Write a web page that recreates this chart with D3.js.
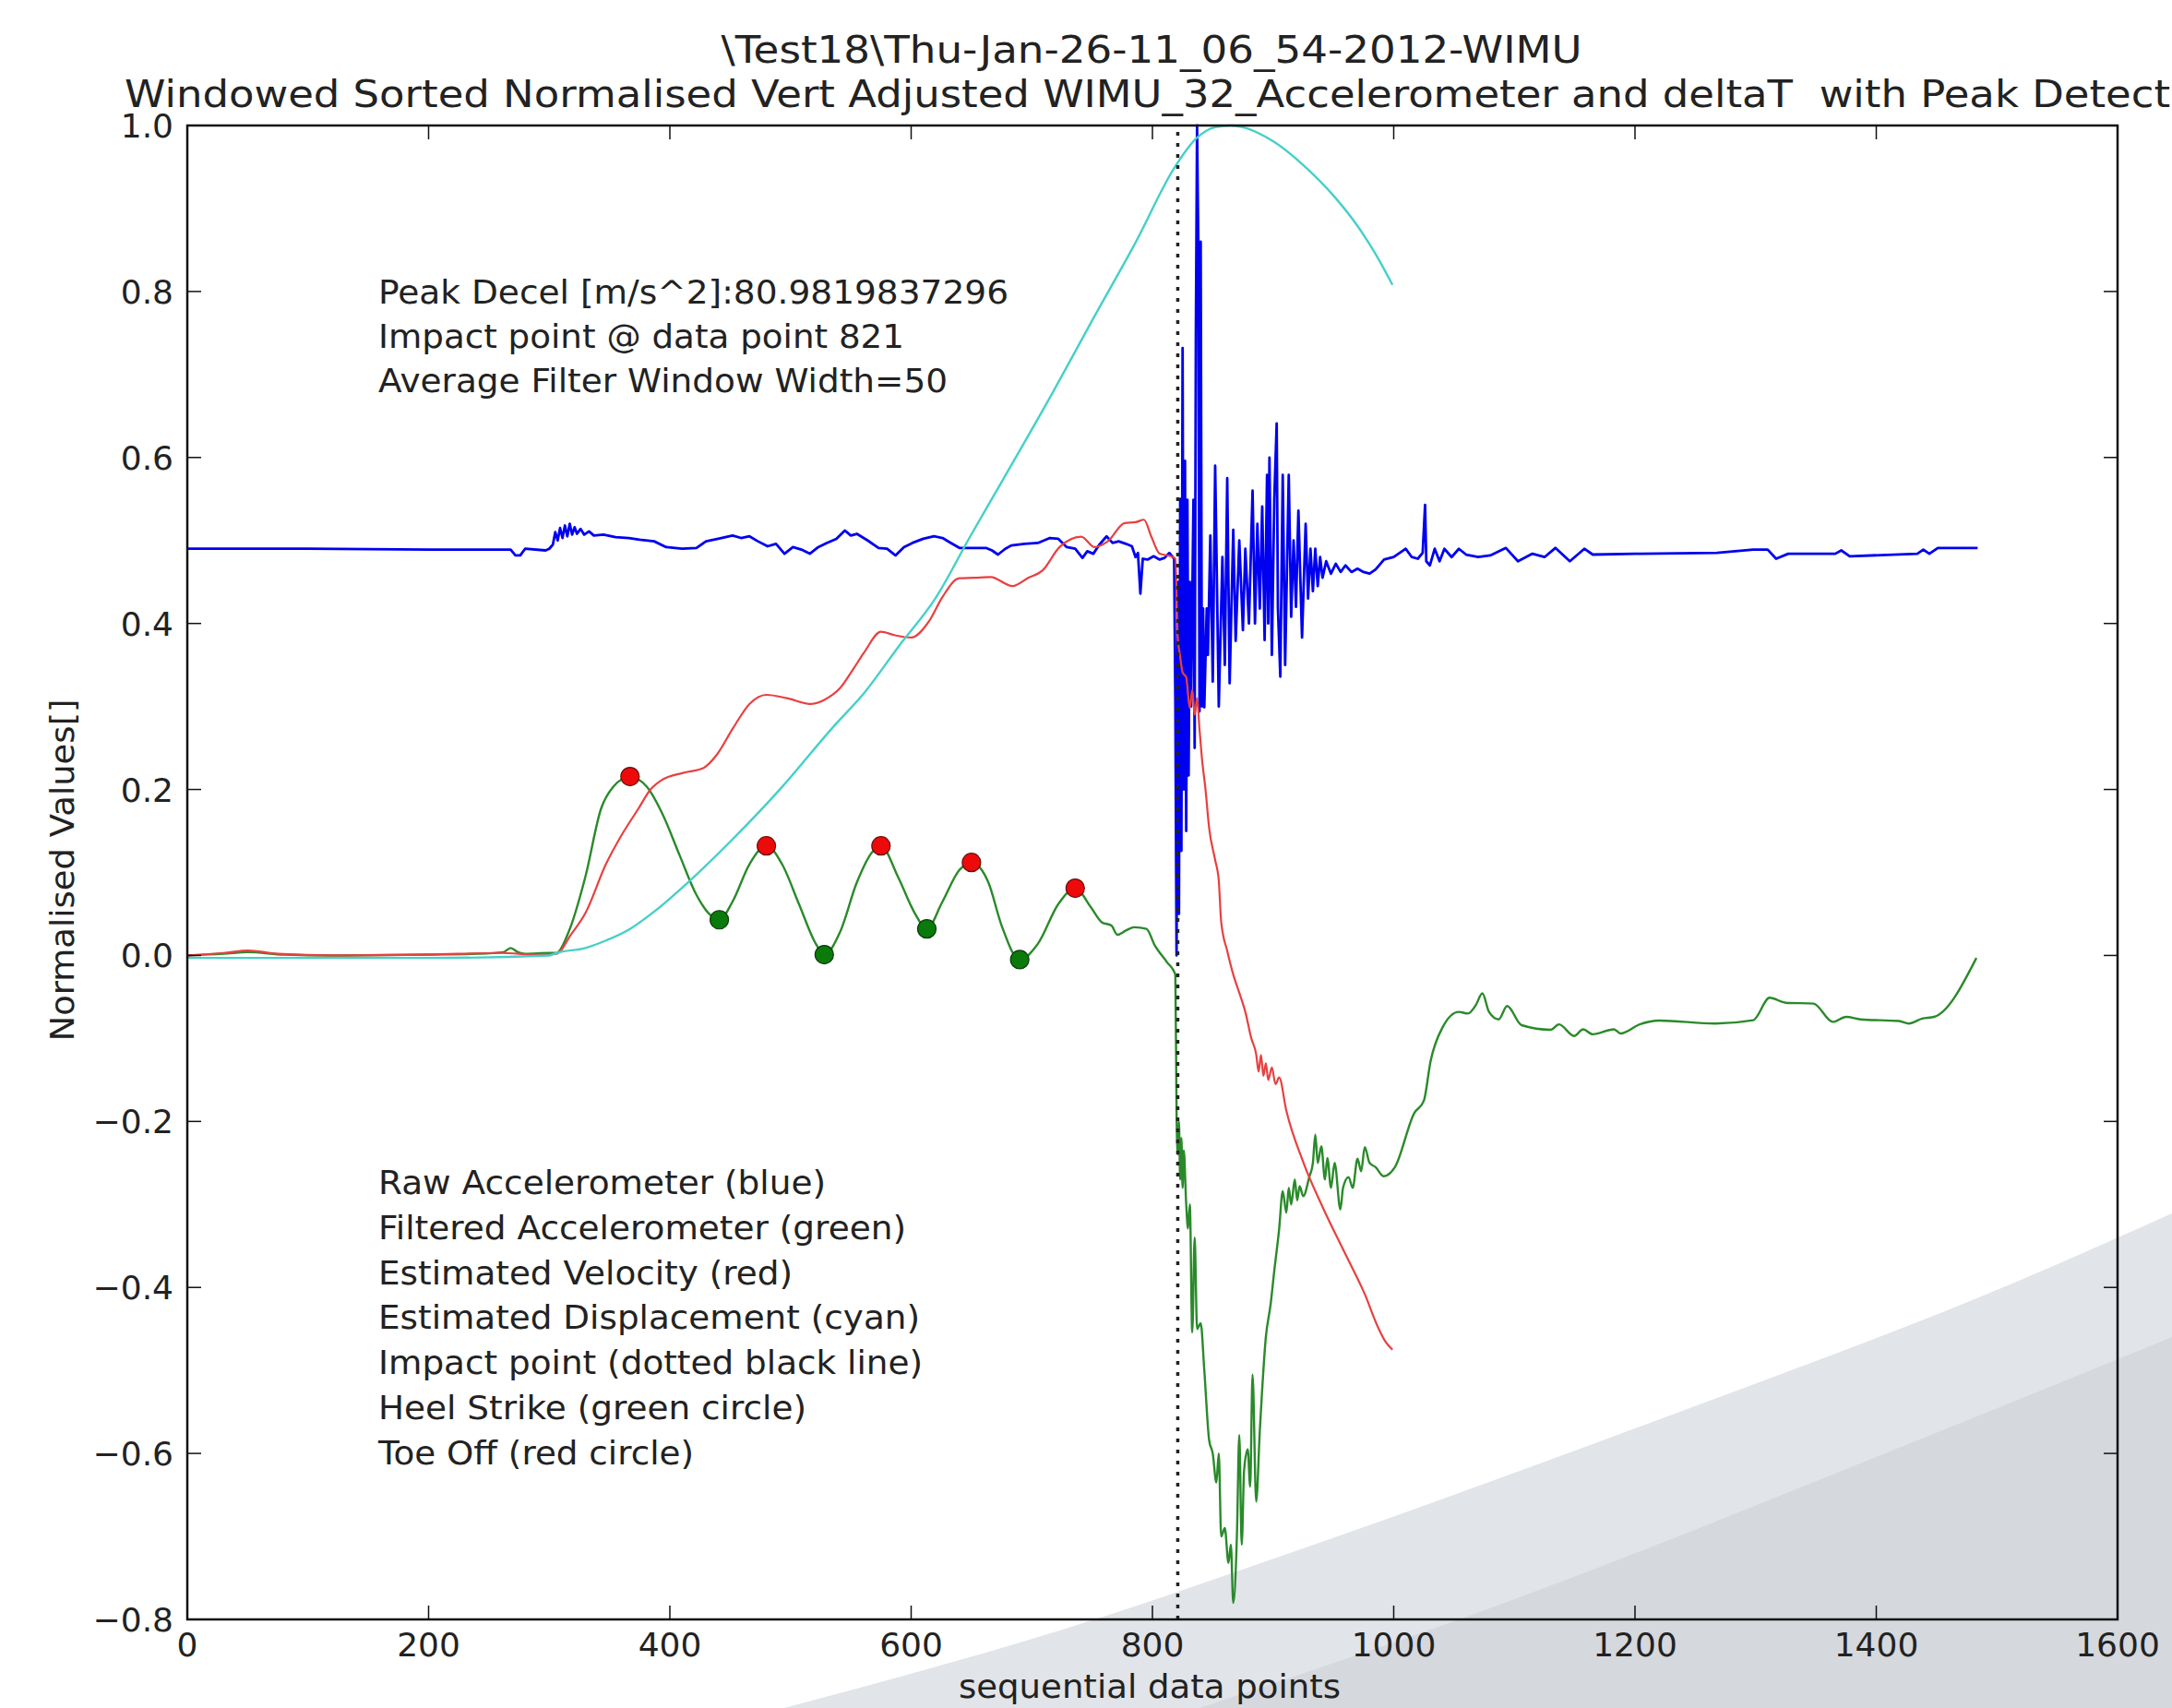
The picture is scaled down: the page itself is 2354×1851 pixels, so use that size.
<!DOCTYPE html>
<html>
<head>
<meta charset="utf-8">
<style>
  body { margin: 0; background: #ffffff; }
  svg { display: block; }
  text { font-family: "DejaVu Sans", sans-serif; fill: #222; }
</style>
</head>
<body>
<svg id="chart" width="2354" height="1851"></svg>
<script src="https://cdnjs.cloudflare.com/ajax/libs/d3/7.8.5/d3.min.js"></script>
<script>
// ---- data: [data point index, normalised value] ----
const rawAccel = [
  [0,0.49],[100,0.49],[200,0.489],[268,0.489],[272,0.482],[276,0.482],[280,0.49],[297,0.488],[300,0.49],
  [303,0.495],[305,0.51],[307,0.5],[309,0.515],[311,0.503],[313,0.518],[315,0.505],[317,0.52],[319,0.507],
  [321,0.516],[323,0.508],[326,0.514],[329,0.507],[333,0.511],[337,0.506],[345,0.507],[355,0.504],[366,0.503],
  [375,0.501],[387,0.499],[397,0.492],[410,0.49],[422,0.491],[430,0.499],[440,0.502],[452,0.506],[459,0.503],
  [466,0.505],[473,0.499],[481,0.493],[488,0.496],[495,0.484],[502,0.492],[509,0.489],[516,0.484],[523,0.492],
  [530,0.497],[538,0.502],[545,0.512],[550,0.506],[555,0.508],[564,0.5],[573,0.491],[580,0.49],[587,0.482],
  [594,0.492],[601,0.497],[610,0.502],[619,0.505],[626,0.503],[633,0.497],[640,0.491],[650,0.491],[662,0.491],
  [667,0.488],[672,0.483],[678,0.49],[683,0.494],[694,0.496],[705,0.497],[715,0.503],[722,0.502],[729,0.492],
  [736,0.49],[742,0.479],[746,0.487],[751,0.484],[756,0.495],[762,0.505],[767,0.497],[772,0.499],[778,0.496],
  [783,0.493],[786,0.48],[788,0.485],[790,0.436],[792,0.478],[796,0.477],[801,0.481],[806,0.477],[810,0.479],
  [814,0.485],[818,0.478],[819,0.3],[820,0.0],[821,0.45],[822,0.05],[823,0.55],[824,0.126],[825,0.732],
  [826,0.2],[827,0.596],[828,0.15],[829,0.549],[830,0.217],[831,0.45],[832,0.3],[834,0.549],[835,0.25],
  [836,0.75],[837,1.0],[838,0.86],[839,0.294],[840,0.86],[841,0.3],[842,0.418],[843,0.299],[845,0.418],
  [846,0.362],[848,0.506],[850,0.33],[852,0.59],[855,0.3],[858,0.48],[860,0.35],[862,0.575],[864,0.328],
  [867,0.513],[869,0.379],[872,0.5],[875,0.392],[877,0.49],[880,0.4],[883,0.56],[885,0.4],[887,0.52],
  [889,0.418],[891,0.541],[893,0.38],[895,0.579],[896,0.4],[897,0.6],[899,0.362],[901,0.55],[903,0.641],
  [904,0.42],[906,0.336],[908,0.579],[910,0.35],[913,0.579],[915,0.408],[917,0.5],[919,0.42],[921,0.536],
  [924,0.383],[927,0.52],[929,0.43],[931,0.49],[933,0.439],[935,0.49],[937,0.445],[939,0.48],[941,0.455],
  [944,0.475],[948,0.46],[952,0.472],[956,0.462],[960,0.47],[965,0.462],[970,0.466],[975,0.462],[980,0.46],
  [985,0.465],[992,0.477],[1000,0.48],[1005,0.485],[1010,0.49],[1015,0.48],[1020,0.478],[1024,0.485],
  [1026,0.543],[1027,0.475],[1030,0.47],[1034,0.49],[1038,0.475],[1042,0.49],[1048,0.48],[1054,0.49],
  [1060,0.483],[1070,0.48],[1080,0.482],[1093,0.491],[1103,0.475],[1115,0.484],[1125,0.48],[1134,0.491],
  [1146,0.475],[1158,0.49],[1165,0.483],[1200,0.484],[1268,0.485],[1298,0.489],[1310,0.489],[1317,0.478],
  [1327,0.484],[1366,0.484],[1371,0.488],[1378,0.481],[1434,0.484],[1439,0.489],[1444,0.484],[1451,0.491],
  [1484,0.491]
];

const filteredAccel = [
  [0,0],[30,0.002],[50,0.004],[80,0.001],[120,0],[200,0.001],[240,0.002],[262,0.004],[268,0.009],[274,0.004],
  [280,0.002],[300,0.003],[306,0.003],[316,0.028],[330,0.095],[343,0.177],[353,0.203],[367,0.2155],[381,0.203],
  [394,0.17],[408,0.121],[422,0.073],[432,0.051],[441,0.043],[452,0.065],[466,0.11],[480,0.132],[493,0.11],
  [507,0.062],[521,0.014],[528,0.001],[541,0.028],[555,0.088],[568,0.125],[575,0.132],[589,0.095],[603,0.051],
  [613,0.032],[626,0.065],[640,0.103],[650,0.112],[664,0.088],[675,0.036],[690,-0.005],[705,0.014],[722,0.062],
  [736,0.081],[749,0.058],[758,0.04],[766,0.036],[771,0.025],[778,0.03],[785,0.034],[795,0.032],[802,0.012],
  [812,-0.008],[819,-0.023],[820,-0.19],[821,-0.24],[822,-0.2],[823,-0.27],[824,-0.22],[825,-0.28],[826,-0.235],
  [828,-0.3],[829.5,-0.329],[831,-0.3],[833,-0.454],[835,-0.34],[837,-0.45],[840,-0.443],[843,-0.5],[847,-0.584],
  [850,-0.6],[853,-0.635],[855,-0.6],[857,-0.7],[860,-0.69],[863,-0.732],[865,-0.71],[867,-0.78],[870,-0.7],
  [872,-0.578],[874,-0.71],[876,-0.62],[879,-0.595],[881,-0.64],[883,-0.505],[886,-0.658],[889,-0.573],
  [894,-0.46],[898,-0.42],[901,-0.38],[905,-0.33],[908,-0.284],[911,-0.31],[913,-0.28],[915,-0.3],[918,-0.27],
  [920,-0.295],[922,-0.278],[925,-0.29],[930,-0.267],[933,-0.25],[935,-0.216],[937,-0.25],[940,-0.23],
  [943,-0.27],[945,-0.244],[948,-0.28],[951,-0.25],[955.8,-0.306],[958,-0.28],[962.6,-0.267],[966,-0.28],
  [970,-0.245],[973,-0.26],[976,-0.231],[980,-0.25],[985,-0.255],[991.6,-0.266],[1001,-0.255],[1017,-0.19],
  [1025,-0.175],[1030.6,-0.127],[1040,-0.088],[1054,-0.068],[1061.5,-0.07],[1068,-0.06],[1073.5,-0.0457],
  [1079,-0.068],[1087,-0.077],[1094,-0.061],[1106,-0.084],[1130,-0.0895],[1137,-0.083],[1149.5,-0.097],
  [1157,-0.089],[1165,-0.095],[1182.5,-0.089],[1188,-0.094],[1204,-0.083],[1220,-0.0785],[1266.7,-0.082],
  [1298,-0.078],[1311.6,-0.051],[1325,-0.057],[1348,-0.058],[1364,-0.08],[1375,-0.074],[1387,-0.077],
  [1419,-0.079],[1427,-0.082],[1438,-0.076],[1448,-0.074],[1483,-0.003]
];

const velocity = [
  [0,0],[30,0.003],[50,0.006],[75,0.002],[120,0],[200,0.001],[260,0.003],[290,0.001],[306,0.002],[318,0.025],
  [330,0.051],[347,0.11],[360,0.145],[374,0.177],[384,0.2],[394,0.212],[411,0.22],[428,0.226],[439,0.242],
  [452,0.273],[466,0.303],[480,0.314],[497,0.31],[517,0.303],[528,0.308],[541,0.322],[552,0.345],[561,0.365],
  [575,0.39],[586,0.386],[600,0.383],[615,0.403],[626,0.432],[640,0.4545],[652,0.455],[666,0.456],[684,0.445],
  [697,0.455],[709,0.464],[723,0.492],[741,0.5045],[752,0.492],[763,0.499],[777,0.521],[786,0.522],[793,0.525],
  [799,0.505],[806,0.484],[815,0.481],[819,0.478],[821,0.383],[823,0.36],[825,0.341],[828,0.335],[831,0.298],
  [833,0.32],[835,0.29],[837,0.31],[839,0.273],[841,0.238],[844,0.2],[847,0.1535],[852,0.115],[855,0.09],
  [857,0.04],[862,0.0055],[867,-0.023],[872,-0.045],[877,-0.068],[882,-0.1],[886,-0.119],[888,-0.14],
  [890,-0.12],[892,-0.145],[894,-0.13],[896,-0.15],[899,-0.135],[902,-0.155],[905,-0.147],[911,-0.187],
  [925,-0.249],[942,-0.306],[959,-0.357],[976,-0.408],[987,-0.448],[993,-0.465],[999,-0.475]
];

const displacement = [
  [0,-0.003],[100,-0.003],[200,-0.003],[300,0],[306,0.003],[330,0.009],[347,0.018],[367,0.032],[388,0.054],
  [415,0.088],[452,0.14],[493,0.203],[534,0.273],[562,0.318],[590,0.373],[620,0.43],[649,0.505],[676,0.573],
  [718,0.68],[750,0.765],[786,0.859],[819,0.951],[836,0.984],[852,0.998],[865,1.0],[875,0.998],[900,0.981],
  [926,0.951],[951,0.914],[969,0.881],[985,0.845],[999,0.808]
];

const toeOff = [[367,0.2155],[480,0.132],[575,0.132],[650,0.112],[736,0.081]];
const heelStrike = [[441,0.043],[528,0.001],[613,0.032],[690,-0.005]];
const impactPoint = 821;

const xTicks = [0, 200, 400, 600, 800, 1000, 1200, 1400, 1600];
const yTicks = [-0.8, -0.6, -0.4, -0.2, 0.0, 0.2, 0.4, 0.6, 0.8, 1.0];

const titleLines = [
  "\\Test18\\Thu-Jan-26-11_06_54-2012-WIMU",
  "Windowed Sorted Normalised Vert Adjusted WIMU_32_Accelerometer and deltaT  with Peak Detect"
];
const infoLines = [
  "Peak Decel [m/s^2]:80.9819837296",
  "Impact point @ data point 821",
  "Average Filter Window Width=50"
];
const legendLines = [
  "Raw Accelerometer (blue)",
  "Filtered Accelerometer (green)",
  "Estimated Velocity (red)",
  "Estimated Displacement (cyan)",
  "Impact point (dotted black line)",
  "Heel Strike (green circle)",
  "Toe Off (red circle)"
];

// ---- layout ----
const W = 2354, H = 1851;
const plot = { left: 203, right: 2295, top: 136, bottom: 1755 };

const svg = d3.select("#chart");

// grey slide decoration in the bottom-right corner
const deco = d3.line().curve(d3.curveMonotoneX);
svg.append("path")
  .attr("d", deco([[850,1851],[1196,1752],[1355,1698],[1791,1541],[2188,1388],[2354,1315]]) + `L${W},${H}Z`)
  .attr("fill", "#e1e4e8");
svg.append("path")
  .attr("d", deco([[1300,1851],[1590,1752],[2088,1557],[2354,1449]]) + `L${W},${H}Z`)
  .attr("fill", "#d5d8dd");

const x = d3.scaleLinear().domain([0, 1600]).range([plot.left, plot.right]);
const y = d3.scaleLinear().domain([-0.8, 1.0]).range([plot.bottom, plot.top]);

const line = d3.line().x(d => x(d[0])).y(d => y(d[1]));
const smooth = d3.line().x(d => x(d[0])).y(d => y(d[1])).curve(d3.curveMonotoneX);

const g = svg.append("g");
g.append("path").datum(rawAccel).attr("d", line)
  .attr("fill", "none").attr("stroke", "#0000f0").attr("stroke-width", 2.8).attr("stroke-linejoin", "round");
g.append("path").datum(filteredAccel).attr("d", smooth)
  .attr("fill", "none").attr("stroke", "#2a8a2a").attr("stroke-width", 2.4).attr("stroke-linejoin", "round");
g.append("path").datum(velocity).attr("d", smooth)
  .attr("fill", "none").attr("stroke", "#e84040").attr("stroke-width", 2.2).attr("stroke-linejoin", "round");
g.append("path").datum(displacement).attr("d", smooth)
  .attr("fill", "none").attr("stroke", "#45d0c8").attr("stroke-width", 2.4);

// impact point
g.append("line")
  .attr("x1", x(impactPoint)).attr("x2", x(impactPoint))
  .attr("y1", y(-0.8)).attr("y2", y(1.0))
  .attr("stroke", "#222").attr("stroke-width", 3.5).attr("stroke-dasharray", "4 8");

g.selectAll("circle.toe").data(toeOff).join("circle")
  .attr("class", "toe")
  .attr("cx", d => x(d[0])).attr("cy", d => y(d[1])).attr("r", 10)
  .attr("fill", "#ee0a0a").attr("stroke", "#6a1010").attr("stroke-width", 1.2);
g.selectAll("circle.heel").data(heelStrike).join("circle")
  .attr("class", "heel")
  .attr("cx", d => x(d[0])).attr("cy", d => y(d[1])).attr("r", 10)
  .attr("fill", "#0a7a0a").attr("stroke", "#0a3a0a").attr("stroke-width", 1.2);

// frame and ticks (inward, all four sides, like matplotlib)
const axisColor = "#111";
svg.append("rect")
  .attr("x", plot.left).attr("y", plot.top)
  .attr("width", plot.right - plot.left).attr("height", plot.bottom - plot.top)
  .attr("fill", "none").attr("stroke", axisColor).attr("stroke-width", 2.5);

const tickLen = 15;
xTicks.forEach(t => {
  svg.append("line").attr("x1", x(t)).attr("x2", x(t))
    .attr("y1", plot.bottom).attr("y2", plot.bottom - tickLen)
    .attr("stroke", axisColor).attr("stroke-width", 1.5);
  svg.append("line").attr("x1", x(t)).attr("x2", x(t))
    .attr("y1", plot.top).attr("y2", plot.top + tickLen)
    .attr("stroke", axisColor).attr("stroke-width", 1.5);
});
yTicks.forEach(t => {
  svg.append("line").attr("x1", plot.left).attr("x2", plot.left + tickLen)
    .attr("y1", y(t)).attr("y2", y(t))
    .attr("stroke", axisColor).attr("stroke-width", 1.5);
  svg.append("line").attr("x1", plot.right).attr("x2", plot.right - tickLen)
    .attr("y1", y(t)).attr("y2", y(t))
    .attr("stroke", axisColor).attr("stroke-width", 1.5);
});

const fmtY = d => (d < 0 ? "\u2212" : "") + Math.abs(d).toFixed(1);
svg.selectAll("text.xtick").data(xTicks).join("text")
  .attr("class", "xtick")
  .attr("x", d => x(d)).attr("y", 1795)
  .attr("text-anchor", "middle")
  .style("font-size", "36px")
  .text(d => d);
svg.selectAll("text.ytick").data(yTicks).join("text")
  .attr("class", "ytick")
  .attr("x", 188).attr("y", d => y(d) + 13)
  .attr("text-anchor", "end")
  .style("font-size", "36px")
  .text(fmtY);

// titles
svg.append("text")
  .attr("x", 1248).attr("y", 68).attr("text-anchor", "middle")
  .attr("textLength", 933).attr("lengthAdjust", "spacingAndGlyphs")
  .style("font-size", "40px")
  .text(titleLines[0]);
svg.append("text")
  .attr("x", 135).attr("y", 116)
  .attr("textLength", 2217).attr("lengthAdjust", "spacingAndGlyphs")
  .style("font-size", "40px")
  .style("white-space", "pre")
  .text(titleLines[1]);

// axis labels
svg.append("text")
  .attr("x", 1246).attr("y", 1840).attr("text-anchor", "middle")
  .attr("textLength", 414).attr("lengthAdjust", "spacingAndGlyphs")
  .style("font-size", "36px")
  .text("sequential data points");
svg.append("text")
  .attr("transform", "translate(80,943) rotate(-90)")
  .attr("text-anchor", "middle")
  .attr("textLength", 371).attr("lengthAdjust", "spacingAndGlyphs")
  .style("font-size", "36px")
  .text("Normalised Values[]");

// annotations
const infoWidths = [683, 570, 617];
svg.selectAll("text.info").data(infoLines).join("text")
  .attr("class", "info")
  .attr("x", 410).attr("y", (d, i) => 329 + i * 48)
  .attr("textLength", (d, i) => infoWidths[i]).attr("lengthAdjust", "spacingAndGlyphs")
  .style("font-size", "36px")
  .text(d => d);

const legendWidths = [485, 572, 449, 587, 590, 464, 342];
svg.selectAll("text.legend").data(legendLines).join("text")
  .attr("class", "legend")
  .attr("x", 410).attr("y", (d, i) => 1294 + i * 48.8)
  .attr("textLength", (d, i) => legendWidths[i]).attr("lengthAdjust", "spacingAndGlyphs")
  .style("font-size", "36px")
  .text(d => d);
</script>
</body>
</html>
